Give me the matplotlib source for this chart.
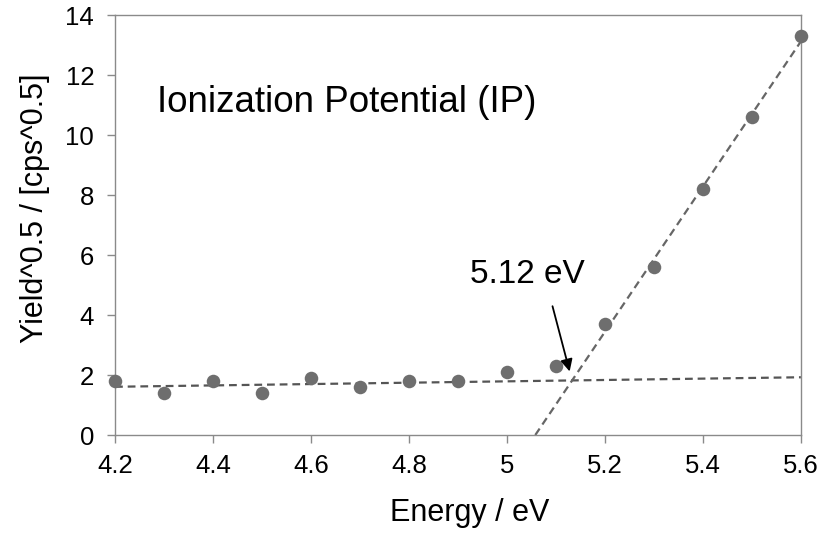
import matplotlib
matplotlib.use("Agg")
import matplotlib.pyplot as plt
import numpy as np


energy = [4.2, 4.3, 4.4, 4.5, 4.6, 4.7, 4.8, 4.9, 5.0, 5.1, 5.2, 5.3, 5.4, 5.5, 5.6]
sqrt_yield = [1.8, 1.4, 1.8, 1.4, 1.9, 1.6, 1.8, 1.8, 2.1, 2.3, 3.7, 5.6, 8.2, 10.6, 13.3]

# points used for the two linear fits
baseline_range = (4.2, 4.9)
onset_range = (5.2, 5.6)

x_ticks = [4.2, 4.4, 4.6, 4.8, 5.0, 5.2, 5.4, 5.6]
x_tick_labels = ["4.2", "4.4", "4.6", "4.8", "5", "5.2", "5.4", "5.6"]
y_ticks = [0, 2, 4, 6, 8, 10, 12, 14]

ip_label = "5.12 eV"
ip_value = 5.13

MARKER_COLOR = "#6e6e6e"
LINE_COLOR = "#555555"
SPINE_COLOR = "#8a8a8a"


def fit(x, y, lo, hi):
    x = np.asarray(x)
    y = np.asarray(y)
    mask = (x >= lo - 1e-9) & (x <= hi + 1e-9)
    return np.polyfit(x[mask], y[mask], 1)


def main() -> None:
    plt.rcParams["font.family"] = ["Liberation Sans", "DejaVu Sans"]

    fig = plt.figure(figsize=(8.36, 5.36), dpi=100)
    ax = fig.add_axes([0.1376, 0.1884, 0.8204, 0.7836])

    x0, x1 = energy[0], energy[-1]

    base = fit(energy, sqrt_yield, *baseline_range)
    onset = fit(energy, sqrt_yield, *onset_range)

    xb = np.array([x0, x1])
    ax.plot(xb, np.polyval(base, xb), ls=(0, (3.5, 2.2)), color=LINE_COLOR,
            lw=1.6, zorder=2)

    x_start = -onset[1] / onset[0]
    xo = np.array([x_start, x1])
    ax.plot(xo, np.polyval(onset, xo), ls=(0, (3.5, 2.2)), color="#666666",
            lw=1.6, zorder=2)

    ax.scatter(energy, sqrt_yield, s=95, color=MARKER_COLOR, zorder=3,
               clip_on=False, linewidths=0)

    ax.set_xlim(x0, x1)
    ax.set_ylim(0, 14)
    ax.set_xticks(x_ticks)
    ax.set_xticklabels(x_tick_labels)
    ax.set_yticks(y_ticks)
    ax.tick_params(direction="out", length=6, width=1, color=SPINE_COLOR,
                   labelsize=18.5)
    ax.tick_params(axis="y", pad=9)
    ax.tick_params(axis="x", pad=8)

    for spine in ax.spines.values():
        spine.set_color(SPINE_COLOR)
        spine.set_linewidth(1.0)

    ax.set_xlabel("Energy / eV", fontsize=22)
    ax.set_ylabel("Yield^0.5 / [cps^0.5]", fontsize=22)
    ax.xaxis.label.set_va("center")
    ax.yaxis.label.set_va("center")
    ax.xaxis.set_label_coords(0.517, -0.186)
    ax.yaxis.set_label_coords(-0.117, 0.54)

    ax.text(4.285, 11.1, "Ionization Potential (IP)", fontsize=26.5,
            va="center", ha="left")

    y_ip = np.polyval(base, ip_value)
    ax.annotate(ip_label, xy=(ip_value - 0.002, y_ip + 0.3),
                xytext=(4.925, 5.35), fontsize=24, va="center", ha="left",
                arrowprops=dict(arrowstyle="-|>", color="black", lw=1.3,
                                shrinkA=10, shrinkB=0, mutation_scale=18,
                                relpos=(0.68, 0.0)))

    fig.savefig("out.png", dpi=100)


if __name__ == "__main__":
    main()
